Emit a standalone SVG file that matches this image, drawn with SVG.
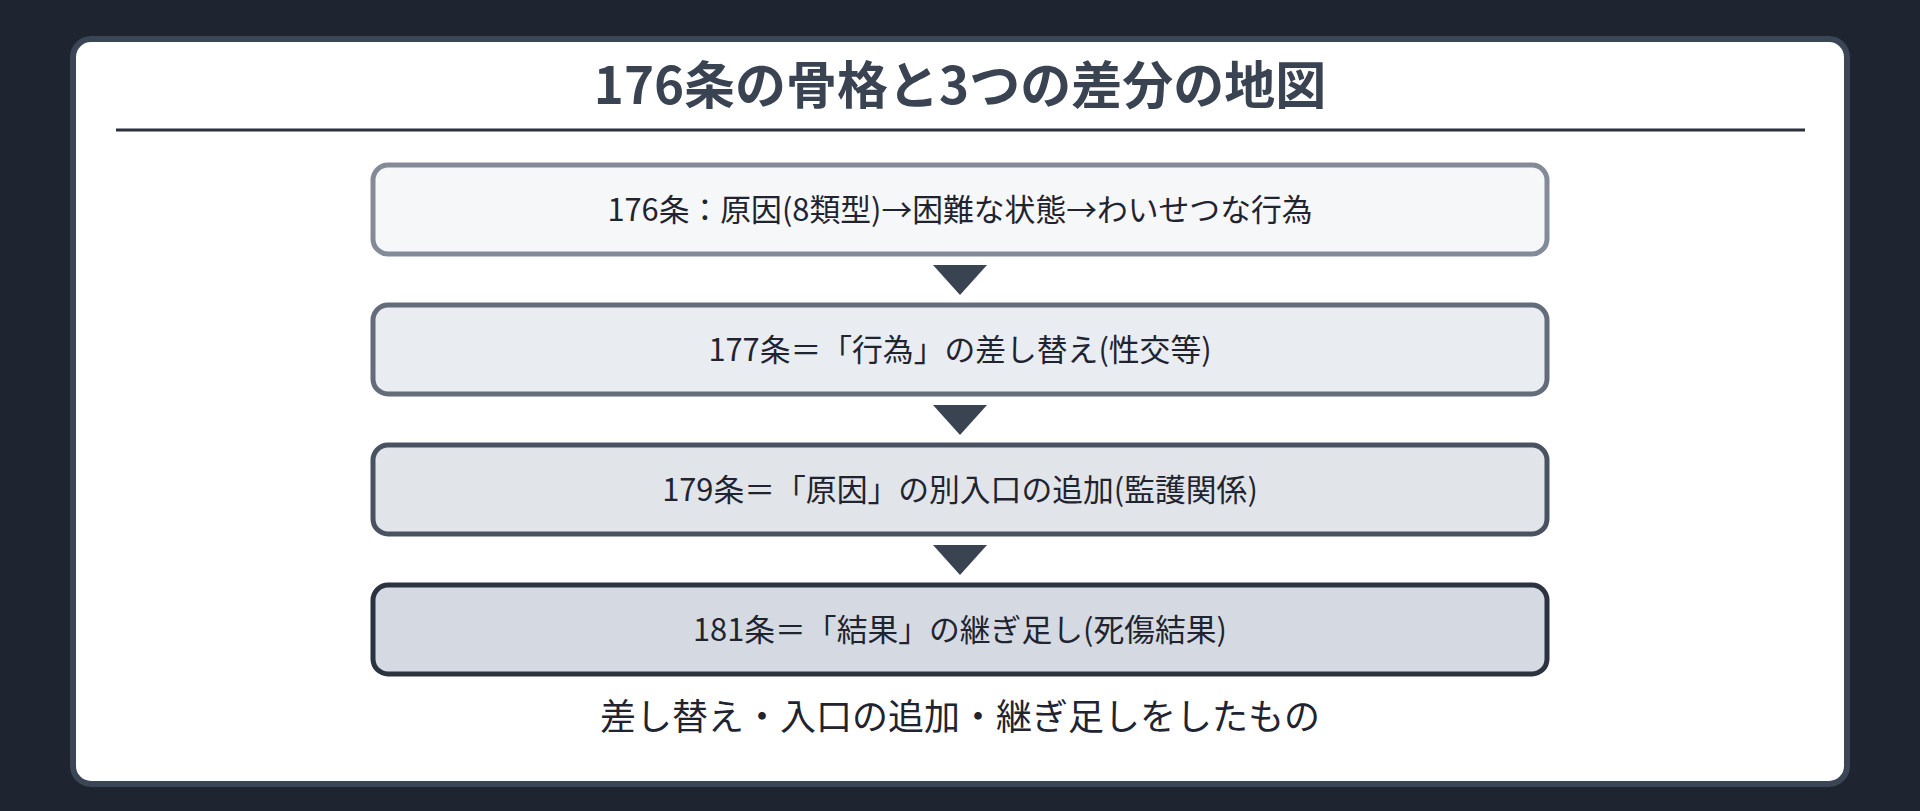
<svg xmlns="http://www.w3.org/2000/svg" width="1920" height="811" viewBox="0 0 1920 811">
<style>
.box{stroke-width:5}
.lbl{font-family:"Noto Sans CJK JP","Noto Sans",sans-serif;font-size:30.8px;fill:#1f2430;text-anchor:middle}
.arrow{fill:#3a4352}
</style>
<rect x="0" y="0" width="1920" height="811" fill="#1e2530"/>
<rect x="73" y="39" width="1774" height="745" rx="18" fill="#ffffff" stroke="#3a4556" stroke-width="6"/>
<text x="960" y="103.5" font-family="'Noto Sans CJK JP','Noto Sans',sans-serif" font-size="51" font-weight="bold" fill="#3a4352" text-anchor="middle">176条の骨格と3つの差分の地図</text>
<line x1="116" y1="130" x2="1805" y2="130" stroke="#2a313c" stroke-width="3"/>
<g id="connectors">
<polygon class="arrow" points="933,265 987,265 960,295"/>
<polygon class="arrow" points="933,405 987,405 960,435"/>
<polygon class="arrow" points="933,545 987,545 960,575"/>
</g>
<g id="node176">
<rect class="box" x="373" y="165" width="1174" height="89" rx="15" fill="#f5f7f9" stroke="#848b98"/>
<text class="lbl" x="960" y="220.5">176条：原因(8類型)→困難な状態→わいせつな行為</text>
</g>
<g id="node177">
<rect class="box" x="373" y="305" width="1174" height="89" rx="15" fill="#e9ecf0" stroke="#646c7b"/>
<text class="lbl" x="960" y="360.5">177条＝「行為」の差し替え(性交等)</text>
</g>
<g id="node179">
<rect class="box" x="373" y="445" width="1174" height="89" rx="15" fill="#e1e4e9" stroke="#4a5262"/>
<text class="lbl" x="960" y="500.5">179条＝「原因」の別入口の追加(監護関係)</text>
</g>
<g id="node181">
<rect class="box" x="373" y="585" width="1174" height="89" rx="15" fill="#d5dae2" stroke="#2b3240"/>
<text class="lbl" x="960" y="640.5">181条＝「結果」の継ぎ足し(死傷結果)</text>
</g>
<text x="960" y="729.5" font-family="'Noto Sans CJK JP','Noto Sans',sans-serif" font-size="36" fill="#1f2430" text-anchor="middle">差し替え・入口の追加・継ぎ足しをしたもの</text>
</svg>
